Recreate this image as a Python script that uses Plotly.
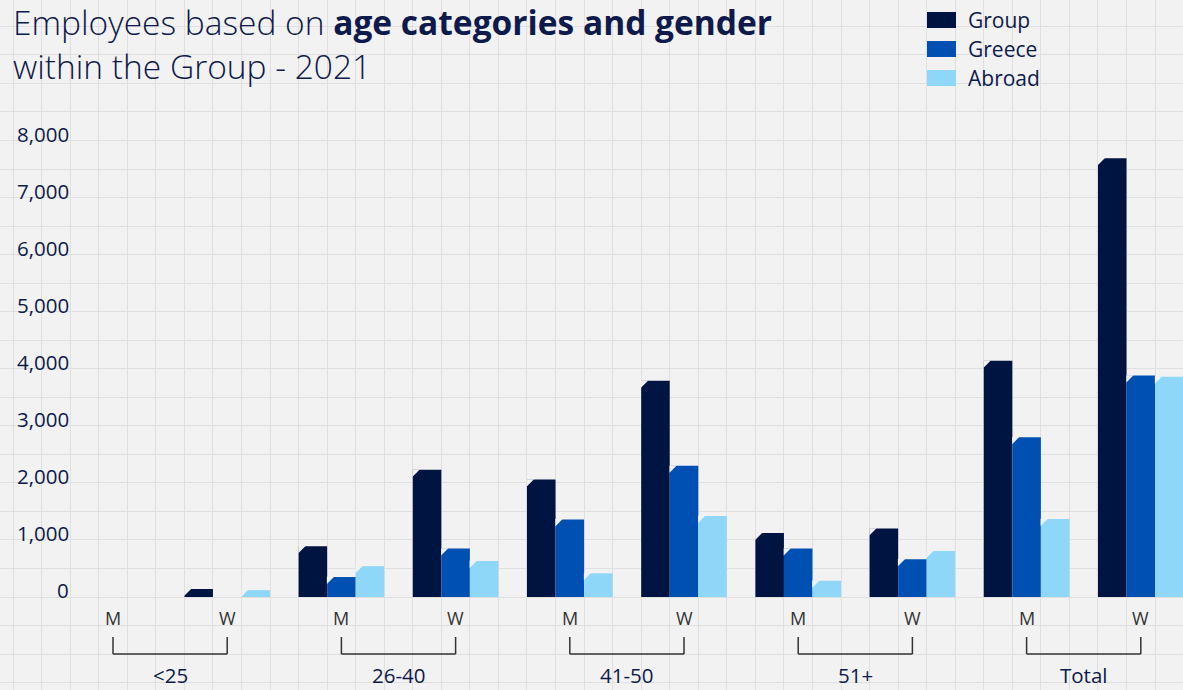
import plotly.graph_objects as go

# ---- data ----
age_groups = ["<25", "26-40", "41-50", "51+", "Total"]
genders = ["M", "W"]
series = ["Group", "Greece", "Abroad"]
group_vals = [0, 140, 890, 2230, 2060, 3790, 1120, 1200, 4140, 7690]
greece_vals = [0, 0, 350, 850, 1360, 2300, 850, 660, 2800, 3880]
abroad_vals = [0, 120, 540, 630, 415, 1420, 285, 805, 1365, 3860]
y_ticks = [0, 1000, 2000, 3000, 4000, 5000, 6000, 7000, 8000]
colors = ["#001442", "#0050b4", "#8ed7f8"]

TEXT = "#0e1a4b"
BG = "#f2f2f2"
FONT = "Open Sans"

cat_labels = [g for _ in age_groups for g in genders]
xpos = list(range(len(cat_labels)))
values = [group_vals, greece_vals, abroad_vals]

fig = go.Figure()
for name, vals, col in zip(series, values, colors):
    fig.add_trace(go.Bar(x=xpos, y=vals, name=name, marker_color=col,
                         marker_line_width=0, showlegend=False, hoverinfo="skip"))

W, H = 1183, 690
pxu = 114.2
x0px = 113
xr = [-x0px / pxu, (W - x0px) / pxu]
ypu = 0.05706
y0px = 597
yr = [(y0px - H) / ypu, y0px / ypu]
BARW = 0.25


def py(p):
    return 1 - p / H


annotations = []
shapes = []

# chamfered top-left corner of each bar (derived from bar values)
dx = 7 / pxu
dy = 7 / ypu
for s, vals in enumerate(values):
    for i, v in zip(xpos, vals):
        if v <= 0:
            continue
        left = i - 1.5 * BARW + s * BARW
        c = min(dy, v)
        shapes.append(dict(type="path", xref="x", yref="y", layer="above",
                           path=f"M {left - 0.002},{v - c} L {left - 0.002},{v + 5} L {left + dx * c / dy},{v + 5} Z",
                           fillcolor=BG, line_width=0))

for v in y_ticks:
    annotations.append(dict(x=71 / W, xref="paper", y=v, yref="y", text=f"{v:,}",
                            showarrow=False, xanchor="right", yanchor="middle",
                            yshift=7, font=dict(size=20.5, color=TEXT, family=FONT, weight=400)))

for i, lab in enumerate(cat_labels):
    annotations.append(dict(x=i, xref="x", y=py(618), yref="paper", text=lab,
                            showarrow=False, xanchor="center", yanchor="middle",
                            font=dict(size=18, color="#333333", family=FONT, weight=400)))

for gi, g in enumerate(age_groups):
    xa, xb = 2 * gi, 2 * gi + 1
    annotations.append(dict(x=(xa + xb) / 2, xref="x", y=py(675), yref="paper",
                            text=g, showarrow=False, xanchor="center", yanchor="middle",
                            font=dict(size=20.5, color=TEXT, family=FONT, weight=400)))
    for xx in (xa, xb):
        shapes.append(dict(type="line", xref="x", yref="paper", x0=xx, x1=xx,
                           y0=py(637), y1=py(654), line=dict(color="#333333", width=1.5)))
    shapes.append(dict(type="line", xref="x", yref="paper", x0=xa, x1=xb,
                       y0=py(654), y1=py(654), line=dict(color="#333333", width=1.5)))

annotations.append(dict(x=11 / W, xref="paper", y=py(-3), yref="paper",
                        xanchor="left", yanchor="top", align="left", showarrow=False,
                        text="Employees based on <b>age categories and gender</b><br>within the Group - 2021",
                        font=dict(size=33.5, color=TEXT, family=FONT, weight=300)))

for i, (name, col) in enumerate(zip(series, colors)):
    cy = 20 + 29 * i
    shapes.append(dict(type="rect", xref="paper", yref="paper",
                       x0=927 / W, x1=956 / W, y0=py(cy - 8), y1=py(cy + 8),
                       fillcolor=col, line_width=0))
    annotations.append(dict(x=966 / W, xref="paper", y=py(cy), yref="paper",
                            text=name, showarrow=False, xanchor="left", yanchor="middle",
                            font=dict(size=21, color=TEXT, family=FONT, weight=400)))

fig.update_layout(
    width=W, height=H,
    margin=dict(l=0, r=0, t=0, b=0),
    paper_bgcolor=BG, plot_bgcolor=BG,
    barmode="group", bargap=0.25, bargroupgap=0,
    xaxis=dict(range=xr, tick0=0.125, dtick=0.25, showgrid=True,
               gridcolor="#e0e0e0", gridwidth=1, showticklabels=False,
               zeroline=False, showline=False, fixedrange=True),
    yaxis=dict(range=yr, tick0=0, dtick=500, showgrid=True,
               gridcolor="#e0e0e0", gridwidth=1, showticklabels=False,
               zeroline=False, showline=False, fixedrange=True),
    annotations=annotations, shapes=shapes,
    showlegend=False,
    font=dict(family=FONT, color=TEXT),
)

fig.write_html("out.html", config={"displayModeBar": False},
               post_script="document.body.style.margin='0';document.body.style.overflow='hidden';")
